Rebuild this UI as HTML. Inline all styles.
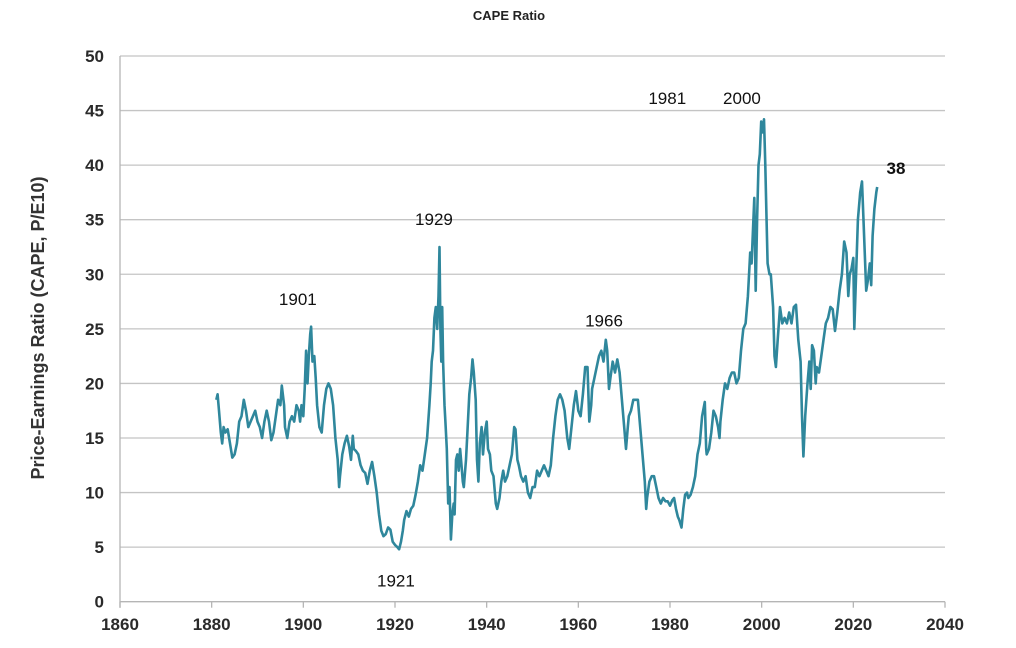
<!DOCTYPE html>
<html><head><meta charset="utf-8"><style>
html,body{margin:0;padding:0;background:#fff;}
svg{display:block;}
.tick{font-family:"Liberation Sans",sans-serif;font-size:17px;font-weight:bold;fill:#2a2a2a;}
.ann{font-family:"Liberation Sans",sans-serif;font-size:17px;fill:#111;}
</style></head><body>
<svg id="chart" width="1016" height="648" viewBox="0 0 1016 648">
<text x="509" y="20" text-anchor="middle" font-family="Liberation Sans,sans-serif" font-size="13" font-weight="bold" fill="#222">CAPE Ratio</text>
<text transform="translate(44,328) rotate(-90)" text-anchor="middle" font-family="Liberation Sans,sans-serif" font-size="18" font-weight="bold" fill="#333">Price-Earnings Ratio (CAPE, P/E10)</text>
<g id="grid"></g><g id="axes"></g><g id="series"></g><g id="anns"></g>
</svg>
<script>
const yTicks=[0,5,10,15,20,25,30,35,40,45,50];
const xTicks=[1860,1880,1900,1920,1940,1960,1980,2000,2020,2040];
const years=[1881.0,1881.3,1881.6,1882.0,1882.3,1882.6,1883,1883.5,1884,1884.5,1885,1885.5,1886,1886.5,1887,1887.5,1888,1888.5,1889,1889.5,1890,1890.5,1891,1891.5,1892,1892.5,1893,1893.5,1894,1894.5,1895,1895.3,1895.8,1896,1896.5,1897,1897.5,1898,1898.5,1899,1899.3,1899.6,1900,1900.3,1900.6,1900.9,1901.2,1901.5,1901.7,1902,1902.4,1902.7,1903,1903.5,1904,1904.5,1905,1905.5,1906,1906.5,1907,1907.5,1907.8,1908,1908.5,1909,1909.5,1910,1910.4,1910.8,1911,1911.5,1912,1912.5,1913,1913.5,1914,1914.5,1915,1915.5,1916,1916.5,1917,1917.5,1918,1918.5,1919,1919.5,1920,1920.5,1920.9,1921.3,1921.7,1922,1922.5,1923,1923.5,1924,1924.5,1925,1925.5,1926,1926.5,1927,1927.5,1927.8,1928,1928.3,1928.6,1928.9,1929.2,1929.5,1929.7,1929.9,1930.1,1930.3,1930.5,1930.8,1931,1931.3,1931.6,1931.9,1932.2,1932.5,1932.8,1933,1933.3,1933.6,1933.9,1934.2,1934.5,1934.8,1935,1935.5,1935.8,1936.2,1936.6,1936.9,1937.2,1937.6,1937.9,1938.2,1938.5,1938.9,1939.2,1939.6,1940,1940.3,1940.7,1941,1941.5,1942,1942.3,1942.8,1943.2,1943.6,1944,1944.5,1945,1945.5,1946,1946.3,1946.7,1947,1947.5,1948,1948.5,1949,1949.5,1950,1950.5,1951,1951.5,1952,1952.5,1953,1953.5,1954,1954.5,1955,1955.5,1956,1956.5,1957,1957.6,1958,1958.5,1959,1959.5,1960,1960.5,1961,1961.5,1962,1962.4,1962.8,1963,1963.5,1964,1964.5,1965,1965.5,1966,1966.3,1966.7,1967,1967.5,1968,1968.5,1969,1969.5,1970,1970.4,1970.8,1971,1971.5,1972,1972.5,1973,1973.5,1974,1974.5,1974.8,1975,1975.5,1976,1976.5,1977,1977.5,1978,1978.5,1979,1979.5,1980,1980.5,1980.9,1981.3,1981.7,1982,1982.5,1982.9,1983.3,1983.7,1984,1984.5,1985,1985.5,1986,1986.5,1987,1987.6,1987.9,1988,1988.5,1989,1989.5,1990,1990.5,1990.8,1991,1991.5,1992,1992.5,1993,1993.5,1994,1994.5,1995,1995.5,1996,1996.5,1997,1997.5,1997.8,1998,1998.4,1998.7,1999,1999.3,1999.6,1999.9,2000.2,2000.5,2000.8,2001,2001.3,2001.7,2002,2002.5,2002.8,2003.1,2003.5,2004,2004.5,2005,2005.5,2006,2006.5,2007,2007.5,2008,2008.5,2008.8,2009.1,2009.5,2010,2010.4,2010.7,2011,2011.4,2011.8,2012,2012.5,2013,2013.5,2014,2014.5,2015,2015.5,2016,2016.5,2017,2017.5,2018,2018.5,2018.9,2019.2,2019.6,2020,2020.2,2020.6,2021,2021.5,2021.9,2022.3,2022.8,2023.2,2023.6,2023.9,2024.2,2024.6,2025,2025.2];
const cape=[18.5,19.0,17.5,15.5,14.5,16,15.5,15.8,14.5,13.2,13.5,14.5,16.5,17,18.5,17.5,16,16.5,17,17.5,16.5,16,15,16.5,17.5,16.5,14.8,15.5,17,18.5,18,19.8,18,16,15,16.5,17,16.5,18,17.5,16.5,18,17,19.5,23,20,22.5,24.5,25.2,22,22.5,20.5,18,16,15.5,18,19.5,20,19.5,18,15,13,10.5,11.5,13.5,14.5,15.2,14.2,13,15.2,14,13.8,13.5,12.5,12,11.8,10.8,12,12.8,11.5,10,8,6.5,6,6.2,6.8,6.6,5.5,5.2,5,4.8,5.5,6.5,7.5,8.3,7.8,8.5,8.8,9.8,11,12.5,12,13.5,15,18,20,22,23,26,27,25,28,32.5,25,22,27,22,18,16.5,14,9,10.5,5.7,8,9,8,13,13.5,12,14,12.5,11,10.5,13,15.5,19,20.5,22.2,21,18.5,13,11,14.5,16,13.5,15.5,16.5,14,13.5,12,11.5,9,8.5,9.5,11,12,11,11.5,12.5,13.5,16,15.8,13,12.5,11.5,11,11.5,10,9.5,10.5,10.5,12,11.5,12,12.5,12,11.5,12.5,15,17,18.5,19,18.5,17.5,15,14,16,18,19.3,17.5,17,19,21.5,21.5,16.5,18,19.5,20.5,21.5,22.5,23,22,24,23,19.5,20.5,22,21,22.2,21,18.5,16,14,16,17,17.5,18.5,18.5,18.5,16,13.5,11,8.5,9.5,11,11.5,11.5,10.5,9.5,9,9.5,9.2,9.2,8.8,9.3,9.5,8.5,7.8,7.5,6.8,8.5,9.8,10,9.5,9.8,10.5,11.5,13.5,14.5,17,18.3,14,13.5,14,15.5,17.5,17,16,15,16.5,18.5,20,19.5,20.5,21,21,20,20.5,23,25,25.5,28,32,31,33,37,28.5,35,40,41,44,43,44.2,40,36,31,30,30,27,22.5,21.5,24,27,25.5,26,25.5,26.5,25.5,27,27.2,24,22,17,13.3,17,20,22,19.5,23.5,23,20,21.5,21,22.5,24,25.5,26,27,26.8,24.8,26.5,28.5,30,33,32,28,30,30.5,31.5,25,30,35,37.5,38.5,34,28.5,29.5,31,29,33.5,36,37.5,38];
const annText=["1901","1929","1921","1966","1981","2000","38"];
const annYear=[1898.8,1928.5,1920.2,1965.6,1979.4,1995.7,2029.3];
const annVal=[27.2,34.5,1.4,25.2,45.6,45.6,39.2];
const NS='http://www.w3.org/2000/svg';
const X0=120,X1=945,Y0=601.7,Y1=56;
const xs=y=>X0+(y-1860)/(2040-1860)*(X1-X0);
const ys=v=>Y0-(v/50)*(Y0-Y1);
function mk(tag,attrs,parent){const e=document.createElementNS(NS,tag);for(const k in attrs)e.setAttribute(k,attrs[k]);parent.appendChild(e);return e;}
const grid=document.getElementById('grid'),axes=document.getElementById('axes'),series=document.getElementById('series'),anns=document.getElementById('anns');
yTicks.forEach(v=>{
 const l=mk('line',{x1:X0,x2:X1,y1:ys(v),y2:ys(v),stroke:v===0?'#b5b5b5':'#c4c4c4','stroke-width':1.3},grid);
 
 
 const t=mk('text',{x:104,y:ys(v)+6,'text-anchor':'end',class:'tick'},axes);
 t.textContent=v;
 
 
});
const ax=mk('line',{x1:X0,x2:X0,y1:Y1,y2:Y0+6,stroke:'#b5b5b5','stroke-width':1.3},axes);


xTicks.forEach(yr=>{
 const tk=mk('line',{x1:xs(yr),x2:xs(yr),y1:Y0,y2:Y0+6,stroke:'#b5b5b5','stroke-width':1.3},axes);
 
 
 const t=mk('text',{x:xs(yr),y:630,'text-anchor':'middle',class:'tick'},axes);
 t.textContent=yr;
 
 
});
const d=years.map((y,i)=>(i?'L':'M')+xs(y).toFixed(1)+','+ys(cape[i]).toFixed(1)).join('');
const p=mk('path',{d:d,fill:'none',stroke:'#2f879c','stroke-width':2.6,'stroke-linejoin':'round'},series);


annText.forEach((s,i)=>{
 const t=mk('text',{x:xs(annYear[i]),y:ys(annVal[i]),'text-anchor':'middle',class:'ann'},anns);
 if(s==='38'){t.setAttribute('font-weight','bold');t.setAttribute('font-size','18');}
 t.textContent=s;
 
 
});
</script>
</body></html>
